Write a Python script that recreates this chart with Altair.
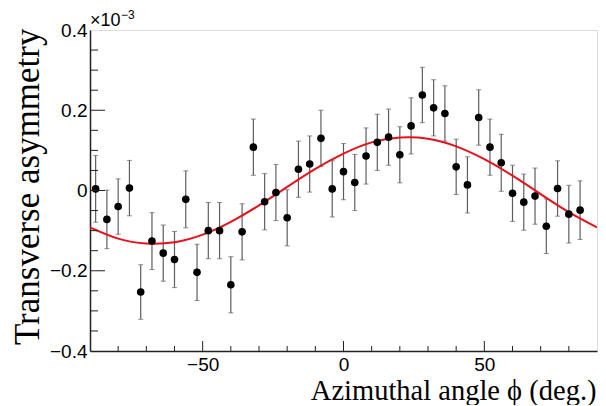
import altair as alt
import pandas as pd

# Measured points (asymmetry in units of 1e-3)
phi = [-88, -84, -80, -76, -72, -68, -64, -60, -56, -52, -48, -44, -40, -36, -32,
       -28, -24, -20, -16, -12, -8, -4, 0, 4, 8, 12, 16, 20, 24, 28, 32, 36, 40,
       44, 48, 52, 56, 60, 64, 68, 72, 76, 80, 84]
asym = [0.004, -0.072, -0.040, 0.006, -0.253, -0.126, -0.156, -0.172, -0.022, -0.204,
        -0.100, -0.100, -0.235, -0.103, 0.108, -0.028, -0.005, -0.068, 0.053, 0.066,
        0.130, 0.004, 0.047, 0.020, 0.086, 0.120, 0.133, 0.089, 0.161, 0.238, 0.206,
        0.192, 0.059, 0.014, 0.182, 0.108, 0.069, -0.007, -0.029, -0.014, -0.089,
        0.005, -0.059, -0.049]
err = [0.083, 0.073, 0.069, 0.069, 0.068, 0.071, 0.070, 0.070, 0.071, 0.070,
       0.070, 0.070, 0.070, 0.070, 0.070, 0.070, 0.070, 0.070, 0.070, 0.070,
       0.070, 0.070, 0.070, 0.070, 0.070, 0.070, 0.070, 0.070, 0.070, 0.069, 0.070,
       0.069, 0.069, 0.070, 0.069, 0.070, 0.071, 0.070, 0.070, 0.070, 0.068,
       0.069, 0.072, 0.073]

# Fit curve
fit_phi = [-90, -80, -70, -60, -50, -40, -30, -20, -10, 0, 10, 20, 30, 40, 50, 60, 70, 80, 90]
fit_val = [-0.092, -0.120, -0.132, -0.129, -0.110, -0.078, -0.037, 0.009, 0.054, 0.092,
           0.120, 0.132, 0.129, 0.110, 0.078, 0.037, -0.009, -0.054, -0.092]

x_major = [-50, 0, 50]
x_minor = [-80, -70, -60, -40, -30, -20, -10, 10, 20, 30, 40, 60, 70, 80]
y_major = [-0.2, 0, 0.2]
y_minor = [-0.35, -0.3, -0.25, -0.15, -0.1, -0.05, 0.05, 0.1, 0.15, 0.25, 0.3, 0.35]
y_labels = [-0.4, -0.2, 0, 0.2, 0.4]

W, H = 507, 321

df = pd.DataFrame({"phi": phi, "a": asym, "e": err})
df["lo"] = df["a"] - df["e"]
df["hi"] = df["a"] + df["e"]
fit = pd.DataFrame({"phi": fit_phi, "a": fit_val})

xs = alt.Scale(domain=[-90, 90], nice=False, zero=False)
ys = alt.Scale(domain=[-0.4, 0.4], nice=False, zero=False)

xaxis = alt.Axis(
    title="Azimuthal angle \u03d5 (deg.)", values=x_major, format="d",
    labelFont="Liberation Sans", labelFontSize=19, labelColor="black", labelPadding=4,
    labelFlush=False, labelOverlap=False,
    ticks=False, tickSize=0, grid=False, domainColor="#222", domainWidth=1.5,
    titleFont="Liberation Serif", titleFontSize=28.5, titleFontWeight="normal", titleColor="black",
    titleX=506, titleY=48, titleAlign="right", titleBaseline="alphabetic",
)
yaxis = alt.Axis(
    title="Transverse asymmetry", values=y_labels, format=".1~f",
    labelFont="Liberation Sans", labelFontSize=19, labelColor="black", labelPadding=3,
    labelFlush=False, labelOverlap=False,
    ticks=False, tickSize=0, grid=False, domainColor="#222", domainWidth=1.5,
    titleFont="Liberation Serif", titleFontSize=35, titleFontWeight="normal", titleColor="black",
    titleAngle=270, titleX=-63, titleY=-2, titleAlign="right", titleBaseline="middle",
)


def X(f):
    return alt.X(f, scale=xs, axis=xaxis)


def Y(f):
    return alt.Y(f, scale=ys, axis=yaxis)


base = alt.Chart(df)
bars = base.mark_rule(color="#5e5e5e", strokeWidth=1.2).encode(
    x=X("phi:Q"), y=Y("lo:Q"), y2="hi:Q")
cap_lo = base.mark_tick(orient="horizontal", color="#5e5e5e", size=5, thickness=1).encode(
    x=X("phi:Q"), y=Y("lo:Q"))
cap_hi = base.mark_tick(orient="horizontal", color="#5e5e5e", size=5, thickness=1).encode(
    x=X("phi:Q"), y=Y("hi:Q"))
curve = alt.Chart(fit).mark_line(color="#e8101a", strokeWidth=2, interpolate="natural", clip=True).encode(
    x=X("phi:Q"), y=Y("a:Q"))
points = base.mark_circle(size=58, color="black", opacity=1).encode(
    x=X("phi:Q"), y=Y("a:Q"))

tick_col = "#222"
xt_major = alt.Chart(pd.DataFrame({"phi": x_major})).mark_rule(color=tick_col, strokeWidth=1).encode(
    x=X("phi:Q"), y=alt.value(H), y2=alt.value(H - 10))
xt_minor = alt.Chart(pd.DataFrame({"phi": x_minor})).mark_rule(color=tick_col, strokeWidth=1).encode(
    x=X("phi:Q"), y=alt.value(H), y2=alt.value(H - 5))
yt_major = alt.Chart(pd.DataFrame({"a": y_major})).mark_rule(color=tick_col, strokeWidth=1).encode(
    y=Y("a:Q"), x=alt.value(0), x2=alt.value(15))
yt_minor = alt.Chart(pd.DataFrame({"a": y_minor})).mark_rule(color=tick_col, strokeWidth=1).encode(
    y=Y("a:Q"), x=alt.value(0), x2=alt.value(8))

exp_df = pd.DataFrame({"t": ["\u00d710"]})
exp_df2 = pd.DataFrame({"t": ["\u22123"]})
exp1 = alt.Chart(exp_df).mark_text(font="Liberation Sans", fontSize=18, align="left",
                                   baseline="alphabetic", color="black").encode(
    text="t:N", x=alt.value(0), y=alt.value(-4))
exp2 = alt.Chart(exp_df2).mark_text(font="Liberation Sans", fontSize=12, align="left",
                                    baseline="alphabetic", color="black").encode(
    text="t:N", x=alt.value(31), y=alt.value(-11))

chart = alt.layer(
    bars, cap_lo, cap_hi, curve, points,
    xt_major, xt_minor, yt_major, yt_minor, exp1, exp2,
).properties(
    width=W, height=H,
    autosize=alt.AutoSizeParams(type="none"),
    padding={"left": 82, "top": 22, "right": 1, "bottom": 54},
).configure_view(stroke="#999", strokeWidth=1.5).configure(background="white")

chart.save("out.html", embed_options={"renderer": "svg", "actions": False})
